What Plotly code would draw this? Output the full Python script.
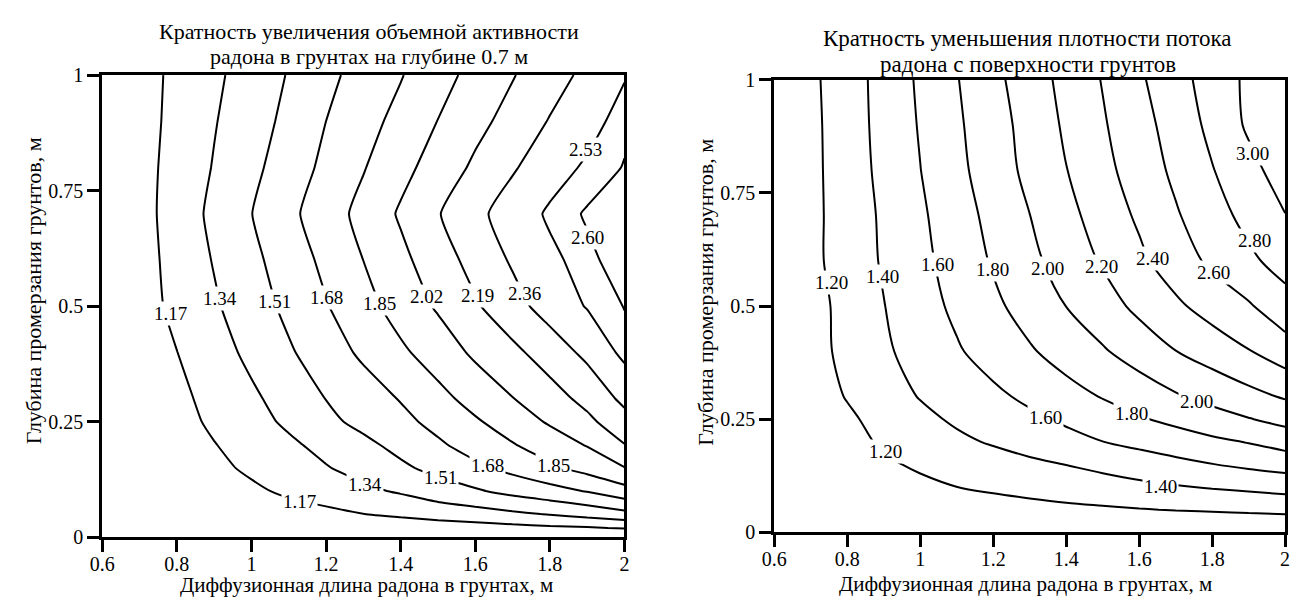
import plotly.graph_objects as go

# ---------------- data ----------------
diff_len = [0.6, 0.7, 0.8, 0.9, 1.0, 1.1, 1.2, 1.3, 1.4, 1.5, 1.6, 1.7, 1.8, 1.9, 2.0]
depth = [0.0, 0.02, 0.05, 0.1, 0.15, 0.2, 0.25, 0.3, 0.4, 0.5, 0.6, 0.7, 0.8, 0.9, 1.0]

# Left: ratio of increase of radon volume activity at 0.7 m depth
activity_ratio = [
    [1.00, 1.00, 1.00, 1.00, 1.00, 1.00, 1.00, 1.00, 1.00, 1.00, 1.00, 1.00, 1.00, 1.00, 1.00],
    [1.00, 1.00, 1.01, 1.01, 1.02, 1.03, 1.04, 1.05, 1.07, 1.08, 1.10, 1.12, 1.14, 1.155, 1.182],
    [1.00, 1.01, 1.02, 1.04, 1.06, 1.10, 1.13, 1.168, 1.20, 1.24, 1.27, 1.31, 1.35, 1.40, 1.46],
    [1.00, 1.03, 1.06, 1.10, 1.14, 1.20, 1.25, 1.305, 1.36, 1.43, 1.49, 1.56, 1.62, 1.69, 1.79],
    [1.00, 1.04, 1.08, 1.13, 1.20, 1.26, 1.33, 1.40, 1.48, 1.56, 1.645, 1.73, 1.82, 1.91, 2.015],
    [1.00, 1.04, 1.09, 1.164, 1.24, 1.31, 1.39, 1.47, 1.56, 1.655, 1.75, 1.84, 1.93, 2.03, 2.185],
    [1.00, 1.04, 1.11, 1.20, 1.28, 1.37, 1.47, 1.555, 1.635, 1.73, 1.83, 1.93, 2.04, 2.15, 2.30],
    [0.99, 1.04, 1.13, 1.22, 1.31, 1.41, 1.513, 1.60, 1.69, 1.80, 1.91, 2.015, 2.12, 2.24, 2.40],
    [0.99, 1.07, 1.168, 1.27, 1.38, 1.49, 1.60, 1.71, 1.82, 1.93, 2.05, 2.15, 2.27, 2.40, 2.57],
    [0.99, 1.10, 1.21, 1.32, 1.43, 1.55, 1.67, 1.79, 1.92, 2.04, 2.17, 2.30, 2.43, 2.54, 2.603],
    [0.98, 1.10, 1.23, 1.35, 1.47, 1.59, 1.72, 1.851, 1.98, 2.11, 2.25, 2.38, 2.50, 2.58, 2.64],
    [0.98, 1.11, 1.24, 1.38, 1.507, 1.64, 1.77, 1.90, 2.04, 2.18, 2.31, 2.45, 2.55, 2.61, 2.66],
    [0.98, 1.11, 1.23, 1.35, 1.47, 1.59, 1.72, 1.84, 1.97, 2.09, 2.22, 2.34, 2.47, 2.55, 2.605],
    [0.99, 1.10, 1.22, 1.33, 1.44, 1.55, 1.68, 1.79, 1.90, 2.023, 2.14, 2.25, 2.37, 2.48, 2.58],
    [1.00, 1.10, 1.21, 1.31, 1.41, 1.52, 1.64, 1.74, 1.84, 1.96, 2.07, 2.18, 2.29, 2.40, 2.52],
]
activity_levels = [1.17, 1.34, 1.51, 1.68, 1.85, 2.02, 2.19, 2.36, 2.53, 2.60]

# Right: ratio of decrease of radon flux density from the soil surface
flux_ratio = [
    [1.00, 1.00, 1.00, 1.00, 1.00, 1.00, 1.00, 1.00, 1.00, 1.00, 1.00, 1.00, 1.00, 1.00, 1.00],
    [1.00, 1.005, 1.01, 1.02, 1.025, 1.03, 1.04, 1.045, 1.05, 1.06, 1.065, 1.075, 1.08, 1.09, 1.10],
    [1.00, 1.02, 1.04, 1.06, 1.08, 1.10, 1.12, 1.14, 1.16, 1.175, 1.192, 1.207, 1.22, 1.235, 1.25],
    [1.00, 1.06, 1.10, 1.14, 1.17, 1.199, 1.23, 1.26, 1.29, 1.32, 1.355, 1.385, 1.415, 1.44, 1.47],
    [1.00, 1.08, 1.13, 1.18, 1.22, 1.27, 1.31, 1.36, 1.403, 1.45, 1.50, 1.55, 1.595, 1.64, 1.68],
    [1.00, 1.08, 1.15, 1.22, 1.29, 1.36, 1.42, 1.48, 1.54, 1.598, 1.65, 1.70, 1.76, 1.81, 1.88],
    [1.00, 1.08, 1.17, 1.26, 1.35, 1.43, 1.50, 1.56, 1.63, 1.71, 1.78, 1.85, 1.92, 1.99, 2.06],
    [1.01, 1.11, 1.21, 1.31, 1.41, 1.49, 1.56, 1.64, 1.73, 1.81, 1.89, 1.98, 2.06, 2.14, 2.22],
    [1.01, 1.13, 1.25, 1.37, 1.475, 1.58, 1.68, 1.78, 1.88, 1.98, 2.09, 2.197, 2.29, 2.39, 2.51],
    [1.00, 1.13, 1.26, 1.395, 1.52, 1.64, 1.76, 1.88, 2.002, 2.12, 2.245, 2.365, 2.48, 2.58, 2.72],
    [1.01, 1.15, 1.29, 1.42, 1.55, 1.68, 1.82, 1.95, 2.09, 2.22, 2.36, 2.50, 2.64, 2.76, 2.88],
    [1.00, 1.15, 1.29, 1.43, 1.57, 1.71, 1.86, 1.998, 2.14, 2.29, 2.43, 2.58, 2.72, 2.86, 2.995],
    [1.00, 1.15, 1.30, 1.45, 1.597, 1.75, 1.90, 2.05, 2.195, 2.345, 2.49, 2.64, 2.79, 2.94, 3.09],
    [1.00, 1.15, 1.31, 1.46, 1.615, 1.77, 1.92, 2.07, 2.23, 2.38, 2.53, 2.68, 2.85, 3.03, 3.19],
    [1.00, 1.16, 1.31, 1.47, 1.63, 1.79, 1.95, 2.10, 2.26, 2.41, 2.57, 2.73, 2.88, 3.04, 3.20],
]
flux_levels = [1.20, 1.40, 1.60, 1.80, 2.00, 2.20, 2.40, 2.60, 2.80, 3.00]

x_tickvals = [0.6, 0.8, 1.0, 1.2, 1.4, 1.6, 1.8, 2.0]
x_ticktext = ["0.6", "0.8", "1", "1.2", "1.4", "1.6", "1.8", "2"]
y_tickvals = [0, 0.25, 0.5, 0.75, 1]
y_ticktext = ["0", "0.25", "0.5", "0.75", "1"]

title_left = ["Кратность увеличения объемной активности", "радона в грунтах на глубине 0.7 м"]
title_right = ["Кратность уменьшения плотности потока", "радона с поверхности грунтов"]
x_title = "Диффузионная длина радона в грунтах, м"
y_title = "Глубина промерзания грунтов, м"

# ---------------- label placement (level index, x, y) ----------------
left_label_places = [
    (0, 0.783, 0.485), (1, 0.915, 0.516), (2, 1.063, 0.509), (3, 1.200, 0.518),
    (4, 1.343, 0.505), (5, 1.469, 0.520), (6, 1.606, 0.523), (7, 1.732, 0.527),
    (8, 1.896, 0.840), (9, 1.902, 0.648),
    (0, 1.129, 0.078), (1, 1.304, 0.113), (2, 1.507, 0.130), (3, 1.634, 0.155),
    (4, 1.809, 0.155),
]
right_label_places = [
    (0, 0.756, 0.552), (1, 0.896, 0.566), (2, 1.046, 0.591), (3, 1.197, 0.580),
    (4, 1.350, 0.584), (5, 1.496, 0.587), (6, 1.637, 0.605), (7, 1.805, 0.573),
    (8, 1.916, 0.644), (9, 1.911, 0.836),
    (0, 0.905, 0.179), (1, 1.658, 0.102), (2, 1.342, 0.254), (3, 1.579, 0.263),
    (4, 1.757, 0.289),
]

FONT = "Liberation Serif, Times New Roman, serif"

fig = go.Figure()


def add_level(z, level, xaxis, yaxis, smoothing):
    fig.add_trace(go.Contour(
        x=diff_len, y=depth, z=z,
        xaxis=xaxis, yaxis=yaxis,
        autocontour=False,
        contours=dict(start=level, end=level, size=1, coloring="lines", showlabels=False),
        colorscale=[[0, "black"], [1, "black"]],
        line=dict(width=2, smoothing=smoothing),
        showscale=False, hoverinfo="skip",
    ))


for lv in activity_levels:
    add_level(activity_ratio, lv, "x", "y", 0.5)
for lv in flux_levels:
    add_level(flux_ratio, lv, "x2", "y2", 1.0)

axis_common = dict(showline=True, linewidth=3, linecolor="black", mirror=True,
                   ticks="outside", ticklen=12, tickwidth=3, tickcolor="black",
                   showgrid=False, zeroline=False,
                   tickfont=dict(family=FONT, size=20, color="black"))

fig.update_layout(
    width=1299, height=606,
    margin=dict(l=0, r=0, t=0, b=0),
    paper_bgcolor="white", plot_bgcolor="white",
    showlegend=False,
    xaxis=dict(domain=[90.5 / 1299, 620 / 1299], range=[0.6, 2.0], ticklabelstandoff=-5,
               tickvals=x_tickvals, ticktext=x_ticktext, anchor="y", **axis_common),
    yaxis=dict(domain=[(606 - 546) / 606, (606 - 66.5) / 606], range=[0, 1],
               tickvals=y_tickvals, ticktext=y_ticktext, anchor="x", **axis_common),
    xaxis2=dict(domain=[772 / 1299, 1290 / 1299], range=[0.6, 2.0], ticklabelstandoff=-5,
                tickvals=x_tickvals, ticktext=x_ticktext, anchor="y2", **axis_common),
    yaxis2=dict(domain=[(606 - 541) / 606, (606 - 71.3) / 606], range=[0, 1],
                tickvals=y_tickvals, ticktext=y_ticktext, anchor="x2", **axis_common),
)

# contour labels: horizontal, white box breaking the line
label_font = dict(family=FONT, size=19, color="black")
for idx, lx, ly in left_label_places:
    fig.add_annotation(x=lx, y=ly, xref="x", yref="y", text=f"{activity_levels[idx]:.2f}",
                       showarrow=False, font=label_font, bgcolor="white", borderpad=1)
for idx, lx, ly in right_label_places:
    fig.add_annotation(x=lx, y=ly, xref="x2", yref="y2", text=f"{flux_levels[idx]:.2f}",
                       showarrow=False, font=label_font, bgcolor="white", borderpad=1)

title_font_l = dict(family=FONT, size=22, color="black")
title_font_r = dict(family=FONT, size=23, color="black")
axis_title_font = dict(family=FONT, size=21, color="black")
annotations = [
    dict(text=title_left[0], x=361 / 1299, y=(606 - 21.5) / 606, font=title_font_l),
    dict(text=title_left[1], x=361 / 1299, y=(606 - 47) / 606, font=title_font_l),
    dict(text=title_right[0], x=1029 / 1299, y=(606 - 28.5) / 606, font=title_font_r),
    dict(text=title_right[1], x=1029 / 1299, y=(606 - 55.5) / 606, font=title_font_r),
    dict(text=x_title, x=358 / 1299, y=(606 - 596) / 606, font=axis_title_font),
    dict(text=x_title, x=1027 / 1299, y=(606 - 595) / 606, font=axis_title_font),
    dict(text=y_title, x=21 / 1299, y=(606 - 290) / 606, textangle=-90,
         font=dict(family=FONT, size=22, color="black")),
    dict(text=y_title, x=702 / 1299, y=(606 - 292) / 606, textangle=-90,
         font=dict(family=FONT, size=22, color="black")),
]
for a in annotations:
    fig.add_annotation(xref="paper", yref="paper", showarrow=False,
                       xanchor="center", yanchor="middle", **a)

fig.write_html("out.html")
